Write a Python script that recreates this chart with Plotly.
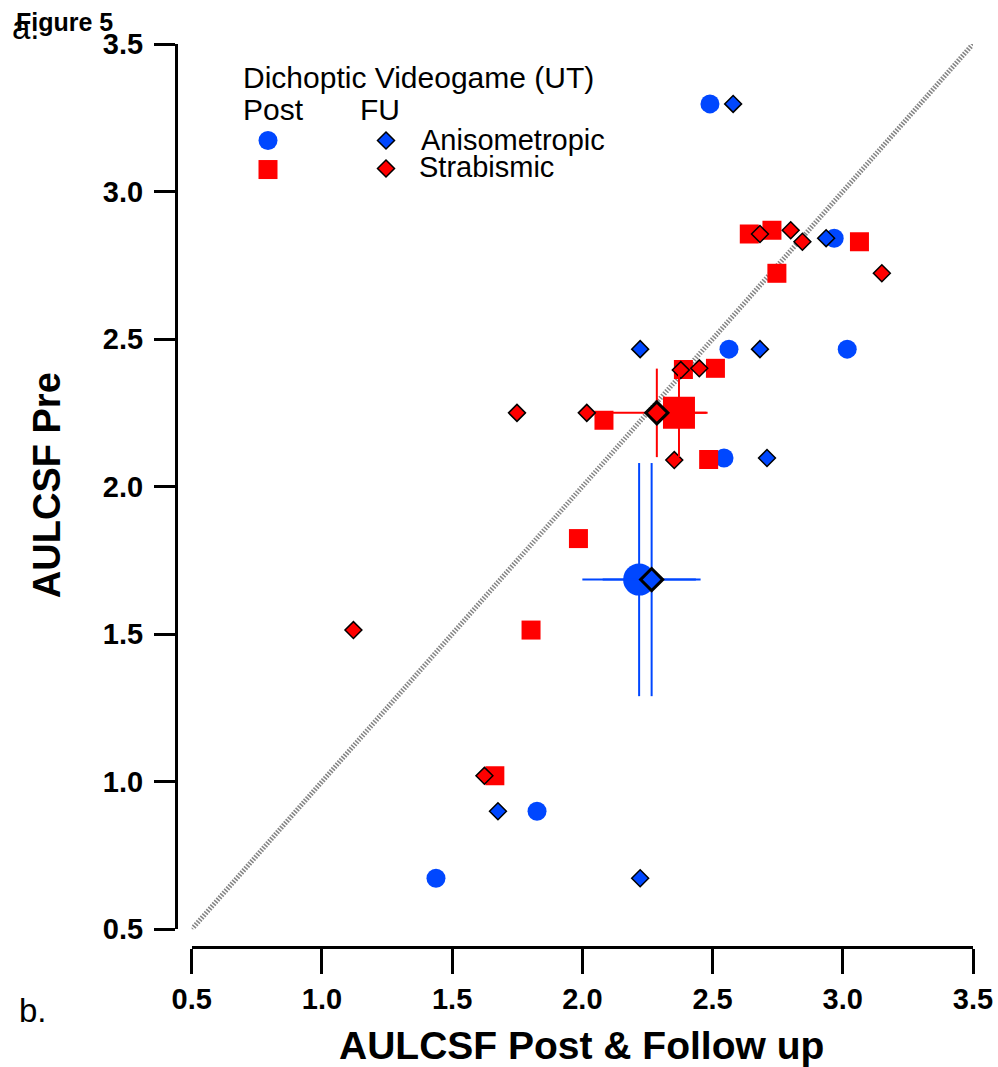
import plotly.graph_objects as go

# ---------------- data ----------------
aniso_pre = [3.297, 2.842, 2.466, 2.466, 2.097, 0.900, 0.673]
aniso_post = [2.490, 2.967, 2.563, 3.017, 2.544, 1.826, 1.438]
aniso_fu = [2.579, 2.936, 2.222, 2.682, 2.709, 1.676, 2.222]

strab_pre_post = [2.856, 2.869, 2.830, 2.723, 2.397, 2.401, 2.225, 2.092, 1.824, 1.514, 1.020]
strab_post = [2.641, 2.728, 3.064, 2.747, 2.388, 2.511, 2.083, 2.485, 1.985, 1.803, 1.664]
strab_pre_fu = [2.856, 2.869, 2.830, 2.723, 2.395, 2.401, 2.250, 2.090, 2.250, 1.514, 1.020]
strab_fu = [2.682, 2.800, 2.845, 3.150, 2.378, 2.449, 2.017, 2.353, 1.749, 1.121, 1.624]

aniso_mean_pre = [1.685]
aniso_mean_post = [2.218]
aniso_mean_fu = [2.266]
aniso_err_pre = [0.395]
aniso_err_post = [0.218]
aniso_err_fu = [0.188]

strab_mean_pre = [2.250]
strab_mean_post = [2.371]
strab_mean_fu = [2.286]
strab_err_pre = [0.150]
strab_err_post = [0.110]
strab_err_fu = [0.190]

diag = [0.5, 3.5]
tick_vals = [0.5, 1.0, 1.5, 2.0, 2.5, 3.0, 3.5]
tick_text = ["0.5", "1.0", "1.5", "2.0", "2.5", "3.0", "3.5"]

BLUE = "#0047ff"
RED = "#ff0000"
FONT = "Liberation Sans"

# pixel geometry of the plotting area
R_MARGIN = 25
L, T, B = 176.0, 44.0, 946.7
R = 998.0 - R_MARGIN
W, H = R - L, B - T


def px(x):
    return (x - L) / W


def py(y):
    return (B - y) / H


fig = go.Figure()

fig.add_trace(go.Scatter(x=diag, y=diag, mode="lines",
                         line=dict(color="#858585", width=5, dash="1.5px,1.5px"),
                         hoverinfo="skip"))

fig.add_trace(go.Scatter(x=aniso_post, y=aniso_pre, mode="markers",
                         marker=dict(symbol="circle", size=19, color=BLUE, line=dict(width=0))))
fig.add_trace(go.Scatter(x=strab_post, y=strab_pre_post, mode="markers",
                         marker=dict(symbol="square", size=19, color=RED, line=dict(width=0))))
fig.add_trace(go.Scatter(x=aniso_fu, y=aniso_pre, mode="markers",
                         marker=dict(symbol="diamond", size=13, color=BLUE, line=dict(width=1.5, color="black"))))
fig.add_trace(go.Scatter(x=strab_fu, y=strab_pre_fu, mode="markers",
                         marker=dict(symbol="diamond", size=13, color=RED, line=dict(width=1.5, color="black"))))

# means with error bars
fig.add_trace(go.Scatter(x=aniso_mean_post, y=aniso_mean_pre, mode="markers",
                         error_x=dict(type="data", array=aniso_err_post, color=BLUE, thickness=2, width=0),
                         error_y=dict(type="data", array=aniso_err_pre, color=BLUE, thickness=2, width=0),
                         marker=dict(symbol="circle", size=32, color=BLUE, line=dict(width=0))))
fig.add_trace(go.Scatter(x=strab_mean_post, y=strab_mean_pre, mode="markers",
                         error_x=dict(type="data", array=strab_err_post, color=RED, thickness=2, width=0),
                         error_y=dict(type="data", array=strab_err_pre, color=RED, thickness=2, width=0),
                         marker=dict(symbol="square", size=32, color=RED, line=dict(width=0))))
fig.add_trace(go.Scatter(x=aniso_mean_fu, y=aniso_mean_pre, mode="markers",
                         error_x=dict(type="data", array=aniso_err_fu, color=BLUE, thickness=2, width=0),
                         error_y=dict(type="data", array=aniso_err_pre, color=BLUE, thickness=2, width=0),
                         marker=dict(symbol="diamond", size=17, color=BLUE, line=dict(width=3, color="black"))))
fig.add_trace(go.Scatter(x=strab_mean_fu, y=strab_mean_pre, mode="markers",
                         error_x=dict(type="data", array=strab_err_fu, color=RED, thickness=2, width=0),
                         error_y=dict(type="data", array=strab_err_pre, color=RED, thickness=2, width=0),
                         marker=dict(symbol="diamond", size=17, color=RED, line=dict(width=3, color="black"))))

axis_common = dict(range=[0.5, 3.5], tickvals=tick_vals, ticktext=tick_text,
                   showgrid=False, zeroline=False, showline=True, linecolor="black",
                   linewidth=3, ticks="outside", tickcolor="black", tickwidth=3,
                   tickfont=dict(family=FONT, size=29, color="black", weight="bold"),
                   ticklabeloverflow="allow", automargin=False,
                   anchor="free", position=0)

fig.update_layout(
    width=998, height=1067, autosize=False,
    margin=dict(l=L, r=R_MARGIN, t=T, b=1067 - B, autoexpand=False),
    paper_bgcolor="white", plot_bgcolor="white",
    showlegend=False,
    xaxis=dict(domain=[(191.7 - L) / W, 1], ticklen=25, **axis_common),
    yaxis=dict(domain=[(B - 929.0) / H, 1], ticklen=21, ticklabelstandoff=5, **axis_common),
)

annots = [
    dict(text="<b>Figure 5</b>", x=px(14), y=py(22), xanchor="left", yanchor="middle", size=25),
    dict(text="a.", x=px(10), y=py(28), xanchor="left", yanchor="middle", size=33),
    dict(text="b.", x=px(17), y=py(1010), xanchor="left", yanchor="middle", size=33),
    dict(text="Dichoptic Videogame (UT)", x=px(241), y=py(77), xanchor="left", yanchor="middle", size=30),
    dict(text="Post", x=px(241), y=py(109), xanchor="left", yanchor="middle", size=30),
    dict(text="FU", x=px(358), y=py(109), xanchor="left", yanchor="middle", size=30),
    dict(text="Anisometropic", x=px(419), y=py(140), xanchor="left", yanchor="middle", size=29),
    dict(text="Strabismic", x=px(417), y=py(167), xanchor="left", yanchor="middle", size=29),
    dict(text="<b>AULCSF Post &amp; Follow up</b>", x=px(581), y=py(1045), xanchor="center", yanchor="middle", size=39),
    dict(text="<b>AULCSF Pre</b>", x=px(47), y=py(485), xanchor="center", yanchor="middle", size=38, textangle=-90),
]
for a in annots:
    size = a.pop("size")
    fig.add_annotation(xref="paper", yref="paper", showarrow=False,
                       font=dict(family=FONT, size=size, color="black"), **a)

# legend symbols
shapes = []
cx, cy, r = 268, 140.5, 9.5
shapes.append(dict(type="circle", xref="paper", yref="paper",
                   x0=px(cx - r), x1=px(cx + r), y0=py(cy + r), y1=py(cy - r),
                   fillcolor=BLUE, line=dict(width=0)))
sx, sy, s = 268, 169.5, 9.5
shapes.append(dict(type="rect", xref="paper", yref="paper",
                   x0=px(sx - s), x1=px(sx + s), y0=py(sy + s), y1=py(sy - s),
                   fillcolor=RED, line=dict(width=0)))
for (dx, dy, col) in [(386, 140.5, BLUE), (386, 168.5, RED)]:
    d = 8.5
    path = "M {a},{b} L {c},{e} L {f},{g} L {h},{i} Z".format(
        a=px(dx), b=py(dy - d), c=px(dx + d), e=py(dy), f=px(dx), g=py(dy + d), h=px(dx - d), i=py(dy))
    shapes.append(dict(type="path", xref="paper", yref="paper", path=path,
                       fillcolor=col, line=dict(width=1.5, color="black")))
fig.update_layout(shapes=shapes)

fig.write_html("out.html")
